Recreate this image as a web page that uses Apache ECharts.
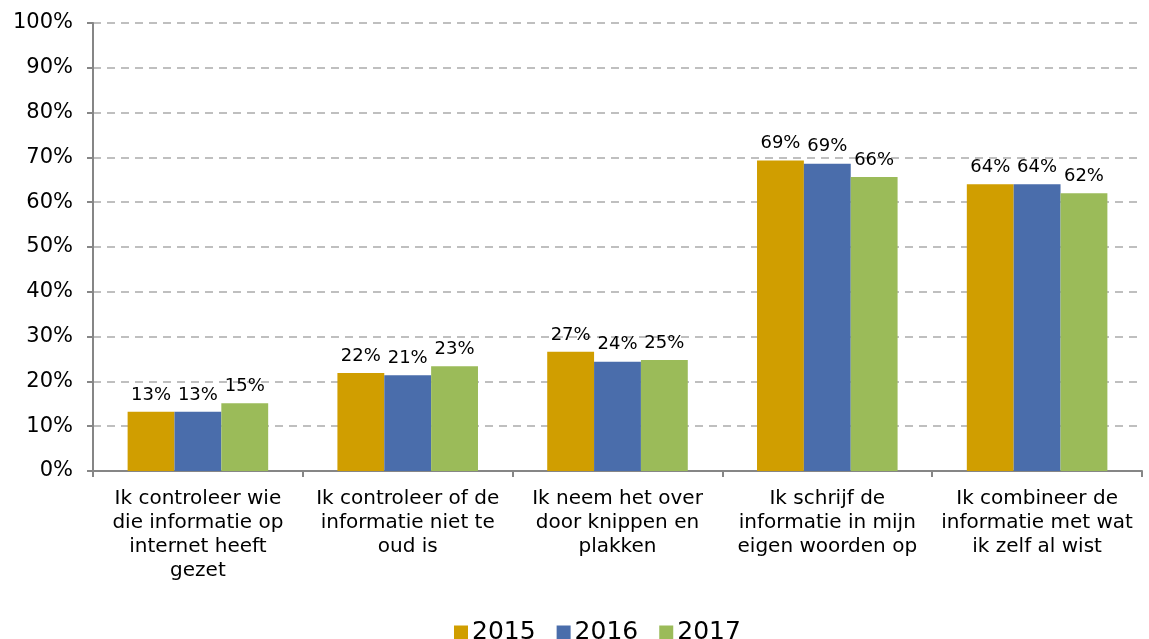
<!DOCTYPE html>
<html><head><meta charset="utf-8">
<script src="https://cdn.jsdelivr.net/npm/echarts@6/dist/echarts.min.js"></script>
<style>html,body{margin:0;padding:0;background:#fff}#c{width:1149px;height:639px}</style>
</head><body><div id="c"></div>
<script>
const categories = [
  "Ik controleer wie\ndie informatie op\ninternet heeft\ngezet",
  "Ik controleer of de\ninformatie niet te\noud is",
  "Ik neem het over\ndoor knippen en\nplakken",
  "Ik schrijf de\ninformatie in mijn\neigen woorden op",
  "Ik combineer de\ninformatie met wat\nik zelf al wist"
];
const years = ["2015", "2016", "2017"];
const v2015 = [13.2, 21.9, 26.6, 69.3, 64.0];
const v2016 = [13.2, 21.4, 24.4, 68.6, 64.0];
const v2017 = [15.1, 23.4, 24.8, 65.6, 62.0];
const colors = ["#D09E00", "#4A6DAB", "#9BBB59"];

const font = "DejaVu Sans, Verdana, sans-serif";
const chart = echarts.init(document.getElementById('c'));
const mk = (name, data, i) => ({
  name, type: 'bar', data,
  barGap: '0%', barCategoryGap: '33%',
  itemStyle: { color: colors[i] },
  label: { show: true, position: 'top', distance: 8, fontFamily: font, fontSize: 18, color: '#000',
    formatter: p => Math.round(p.value) + '%' }
});
chart.setOption({
  animation: false,
  textStyle: { fontFamily: font },
  grid: { left: 93, right: 7, top: 23, bottom: 168, containLabel: false },
  legend: {
    top: 615, left: 449, itemWidth: 14, itemHeight: 14, itemGap: 21, icon: 'rect',
    textStyle: { fontFamily: font, fontSize: 25, color: '#000', padding: [0, 0, 0, -1] },
    data: years
  },
  xAxis: {
    type: 'category', data: categories,
    axisLine: { lineStyle: { color: '#868686', width: 2 } },
    axisTick: { show: true, length: 6, lineStyle: { color: '#868686', width: 2 } },
    axisLabel: { fontFamily: font, fontSize: 20, color: '#000', lineHeight: 24, margin: 16, interval: 0 }
  },
  yAxis: {
    type: 'value', min: 0, max: 100, interval: 10,
    axisLine: { show: true, lineStyle: { color: '#868686', width: 2 } },
    axisTick: { show: true, length: 6, lineStyle: { color: '#868686', width: 2 } },
    axisLabel: { fontFamily: font, fontSize: 21, color: '#000', formatter: '{value}%', margin: 20 },
    splitLine: { lineStyle: { color: '#BFBFBF', type: [8, 6], width: 2 } }
  },
  series: [mk(years[0], v2015, 0), mk(years[1], v2016, 1), mk(years[2], v2017, 2)]
});
</script></body></html>
